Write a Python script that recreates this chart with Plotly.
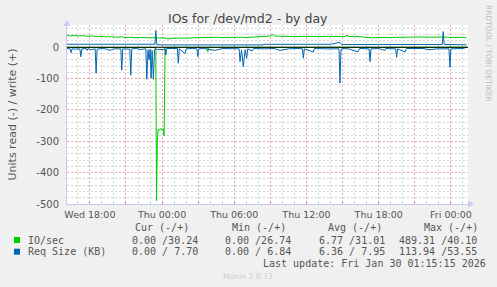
import plotly.graph_objects as go
import pandas as pd

# ---------------- data (hours relative to Thu 2026-01-29 00:00) ----------------
io_write_t = [-7.89, -7.6, -7.3, -7.0, -6.6, -6.2, -5.8, -5.4, -5.0, -4.6, -4.2, -3.8, -3.4, -3.0,
              -2.6, -2.2, -1.8, -1.4, -1.0, -0.6, -0.52, -0.3, 0.1, 0.5, 1.0, 1.5, 2.0, 2.5, 3.0,
              3.5, 4.0, 4.5, 5.0, 5.5, 6.0, 6.5, 7.0, 7.5, 8.0, 8.55, 9.0, 9.22, 9.35, 9.8, 10.3,
              10.8, 11.3, 11.8, 12.3, 12.8, 13.3, 13.8, 14.3, 14.8, 15.2, 15.37, 15.5, 16.0, 16.5,
              17.0, 17.5, 18.0, 18.5, 19.0, 19.5, 20.0, 20.5, 21.0, 21.5, 22.0, 22.5, 23.0, 23.5,
              24.0, 24.5, 25.0, 25.3]
io_write_v = [38, 36, 38, 36, 37, 35, 36, 34, 35, 33, 34, 32, 33, 31,
              32, 30, 31, 30, 29, 30, 32, 29, 30, 26.74, 29, 28, 29, 30, 31,
              32, 31, 32, 31, 32, 31, 32, 31, 32, 32, 35, 36, 40.10, 36, 35, 34,
              35, 34, 35, 34, 35, 34, 35, 34, 35, 34, 39, 34, 35, 33,
              32, 30, 31, 30, 31, 32, 31, 32, 33, 32, 33, 32, 33, 32,
              33, 31, 32, 30.24]

io_read_t = [-7.89, -3.0, -0.6, -0.52, -0.46, -0.39, -0.33, -0.2, -0.1, 0.0, 0.08, 0.17, 0.25,
             0.5, 3.7, 3.80, 3.9, 10.0, 25.3]
io_read_v = [0.5, 0.5, 0.5, 5, 489.31, 300, 262, 265, 260, 262, 260, 283, 2,
             0.5, 0.5, 14, 0.5, 0.3, 0.0]

rs_write_t = [-7.89, -6.0, -4.0, -2.0, -0.6, -0.52, -0.44, 0.0, 3.0, 6.0, 8.3, 8.6, 11.0, 14.0,
              14.78, 14.9, 18.0, 21.0, 23.28, 23.36, 23.44, 25.3]
rs_write_v = [9.6, 9.8, 9.5, 9.8, 9.5, 53.55, 8, 7.5, 7.3, 6.84, 7.5, 9.5, 9.3, 9.5,
              16, 9, 9.0, 9.2, 9, 50, 9, 7.70]

rs_read_t = [-7.89, -7.64, -7.56, -7.48, -7.2, -6.83, -6.75, -6.67, -6.3, -6.23, -6.15, -5.92,
             -5.56, -5.48, -5.40, -5.0, -4.6, -4.32, -4.0, -3.43, -3.35, -3.27, -2.68, -2.60,
             -2.52, -2.1, -1.83, -1.35, -1.27, -1.17, -1.08, -0.99, -0.91, -0.83, -0.72, -0.62,
             -0.52, -0.39, 0.08, 0.17, 0.23, 0.31, 0.39, 0.8, 1.27, 1.35, 1.43, 1.91, 2.0, 2.5,
             2.89, 2.97, 3.05, 3.5, 4.4, 5.0, 5.8, 6.40, 6.48, 6.6, 6.75, 6.9, 7.03, 7.12, 7.48,
             7.6, 8.5, 9.3, 9.8, 10.5, 11.2, 11.66, 11.74, 11.82, 12.57, 12.65, 13.5, 14.2,
             14.70, 14.78, 14.86, 14.95, 15.5, 16.28, 16.4, 17.2, 17.28, 17.36, 18.0, 18.52,
             18.6, 19.41, 19.49, 19.57, 20.18, 20.3, 21.0, 21.7, 22.26, 22.8, 23.84, 23.92,
             24.0, 24.75, 25.0, 25.3]
rs_read_v = [4, 5, 17, 5, 6, 5, 30, 5, 4, 10, 4, 8,
             5, 83, 6, 4, 6, 10, 5, 5, 73, 5, 6, 89,
             5, 4, 7, 5, 102, 8, 40, 6, 98, 10, 102, 6,
             4, 7, 7, 8, 4, 25, 4, 5, 4, 51, 5, 20, 5, 4,
             5, 30, 5, 4, 10, 4, 5, 5, 46, 8, 62, 8, 35, 5, 12,
             4, 5, 4, 10, 5, 4, 5, 35, 5, 15, 4, 5, 4,
             5, 113.94, 12, 4, 5, 15, 4, 5, 46, 5, 4, 10,
             4, 5, 32, 5, 15, 4, 5, 4, 8, 5, 5, 64,
             5, 6, 4, 0.0]

tick_hours = [-6, -3, 0, 3, 6, 9, 12, 15, 18, 21, 24]
tick_labels = ["Wed 18:00", "", "Thu 00:00", "", "Thu 06:00", "", "Thu 12:00", "",
               "Thu 18:00", "", "Fri 00:00"]
y_ticks = [-500, -400, -300, -200, -100, 0]

legend_header = ["Cur (-/+)", "Min (-/+)", "Avg (-/+)", "Max (-/+)"]
legend_names = ["IO/sec", "Req Size (KB)"]
legend_values = [["0.00 /30.24", "0.00 /26.74", "6.77 /31.01", "489.31 /40.10"],
                 ["0.00 / 7.70", "0.00 / 6.84", "6.36 / 7.95", "113.94 /53.55"]]
last_update = "Last update: Fri Jan 30 01:15:15 2026"

GREEN = "#00CC00"
BLUE = "#0066B3"

base = pd.Timestamp("2026-01-29 00:00")


def tt(hours):
    return base + pd.to_timedelta(hours, unit="h")


W, H = 497, 287
L, R, T, B = 67, 29, 25, 83
PW, PH = W - L - R, H - T - B


def px(x):
    return (x - L) / PW


def py(y):
    return (H - B - y) / PH


fig = go.Figure()
fig.add_trace(go.Scatter(x=tt(io_read_t), y=[-v for v in io_read_v], mode="lines",
                         line=dict(color=GREEN, width=1), hoverinfo="skip"))
fig.add_trace(go.Scatter(x=tt(io_write_t), y=io_write_v, mode="lines",
                         line=dict(color=GREEN, width=1), hoverinfo="skip"))
fig.add_trace(go.Scatter(x=tt(rs_read_t), y=[-v for v in rs_read_v], mode="lines",
                         line=dict(color=BLUE, width=1), hoverinfo="skip"))
fig.add_trace(go.Scatter(x=tt(rs_write_t), y=rs_write_v, mode="lines",
                         line=dict(color=BLUE, width=1), hoverinfo="skip"))

TXT = "#555555"
GRID = "#D4D4D4"
MGRID = "#EFA3A3"
AXIS = "#C6CBF2"

fig.update_layout(
    width=W, height=H, autosize=False,
    margin=dict(l=L, r=R, t=T, b=B, pad=0),
    paper_bgcolor="#F0F0F0", plot_bgcolor="#FFFFFF",
    showlegend=False,
    font=dict(family="DejaVu Sans", size=10, color=TXT),
    xaxis=dict(
        type="date",
        range=[tt(-7.9), tt(25.42)],
        tickmode="array", tickvals=tt(tick_hours), ticktext=tick_labels,
        showgrid=True, gridcolor=MGRID, griddash="2px,2px", gridwidth=1,
        ticks="inside", ticklen=3, tickcolor="#E88080", tickwidth=1,
        showline=True, linecolor=AXIS, linewidth=1,
        tickfont=dict(family="DejaVu Sans", size=9.5, color=TXT),
        ticklabelstandoff=2,
        minor=dict(tickmode="linear", tick0=tt(-24), dtick=3600000,
                   showgrid=True, gridcolor=GRID, griddash="2px,2px", gridwidth=1,
                   ticks="inside", ticklen=2, tickcolor="#C8C8C8"),
        fixedrange=True,
    ),
    yaxis=dict(
        range=[-500, 71],
        tickmode="array", tickvals=y_ticks, ticktext=[str(v) for v in y_ticks],
        showgrid=True, gridcolor=MGRID, griddash="2px,2px", gridwidth=1,
        zeroline=False,
        ticks="", showline=True, linecolor=AXIS, linewidth=1,
        tickfont=dict(family="DejaVu Sans", size=10, color=TXT),
        ticklabelstandoff=5,
        minor=dict(tickmode="linear", tick0=0, dtick=20,
                   showgrid=True, gridcolor=GRID, griddash="2px,2px", gridwidth=1),
        fixedrange=True,
    ),
)

# zero rule
fig.add_shape(type="line", xref="paper", yref="y", x0=0, x1=1, y0=0, y1=0,
              line=dict(color="#000000", width=1), layer="above")
# axis arrows
fig.add_shape(type="path", xref="paper", yref="paper", layer="above",
              path=f"M {px(63.5)} {py(26)} L {px(70.5)} {py(26)} L {px(67)} {py(20)} Z",
              fillcolor=AXIS, line=dict(width=0))
fig.add_shape(type="path", xref="paper", yref="paper", layer="above",
              path=f"M {px(468)} {py(200.5)} L {px(468)} {py(207.5)} L {px(474)} {py(204)} Z",
              fillcolor=AXIS, line=dict(width=0))

ann = []
ann.append(dict(text="IOs for /dev/md2 - by day", x=px(248), y=py(19), xref="paper", yref="paper",
                xanchor="center", yanchor="middle", showarrow=False,
                font=dict(family="DejaVu Sans", size=12.5, color="#444444")))
ann.append(dict(text="Units read (-) / write (+)", x=px(11.5), y=py(114), xref="paper", yref="paper",
                xanchor="center", yanchor="middle", showarrow=False, textangle=-90,
                font=dict(family="DejaVu Sans", size=11, color=TXT)))
ann.append(dict(text="RRDTOOL / TOBI OETIKER", x=px(488.5), y=py(53.5), xref="paper", yref="paper",
                xanchor="center", yanchor="middle", showarrow=False, textangle=90,
                font=dict(family="DejaVu Sans", size=7.5, color="#BDBDBD")))
ann.append(dict(text="Munin 2.0.73", x=px(248), y=py(276), xref="paper", yref="paper",
                xanchor="center", yanchor="middle", showarrow=False,
                font=dict(family="DejaVu Sans", size=7.6, color="#CCCCCC")))

MONO = dict(family="DejaVu Sans Mono", size=10, color=TXT)
col_x_header = [134.3, 231, 327.3, 423]
col_x_vals = [131, 224, 317.7, 397.7]
row_y = [240, 251.7]
for txt, x in zip(legend_header, col_x_header):
    ann.append(dict(text=txt, x=px(x), y=py(227.3), xref="paper", yref="paper", xanchor="left",
                    yanchor="middle", showarrow=False, borderpad=0, font=MONO))
for name, vals, y in zip(legend_names, legend_values, row_y):
    ann.append(dict(text=name, x=px(26.7), y=py(y), xref="paper", yref="paper", xanchor="left",
                    yanchor="middle", showarrow=False, borderpad=0, font=MONO))
    for v, x in zip(vals, col_x_vals):
        ann.append(dict(text=v, x=px(x), y=py(y), xref="paper", yref="paper", xanchor="left",
                        yanchor="middle", showarrow=False, borderpad=0, font=MONO))
ann.append(dict(text=last_update, x=px(261.7), y=py(263.3), xref="paper", yref="paper",
                xanchor="left", yanchor="middle", showarrow=False, borderpad=0, font=MONO))
fig.update_layout(annotations=ann)

for col, y in zip([GREEN, BLUE], row_y):
    fig.add_shape(type="rect", xref="paper", yref="paper",
                  x0=px(14), x1=px(20), y0=py(y + 3), y1=py(y - 3),
                  fillcolor=col, line=dict(width=0))

fig.write_html("out.html")
